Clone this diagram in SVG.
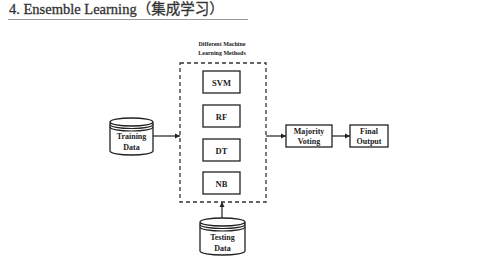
<svg xmlns="http://www.w3.org/2000/svg" width="494" height="256" viewBox="0 0 494 256">
<style>
.t{font-family:"Liberation Serif","Noto Sans CJK SC",serif;font-weight:bold;fill:#222;text-anchor:middle}
.box{fill:#fff;stroke:#222;stroke-width:1.3}
.cyl{fill:#fff;stroke:#222;stroke-width:1.3}
.ln{fill:none;stroke:#222;stroke-width:1.2}
</style>
<defs>
<marker id="ah" markerWidth="6" markerHeight="6" refX="5" refY="3" orient="auto" markerUnits="userSpaceOnUse">
<path d="M0,0.5 L5,3 L0,5.5 Z" fill="#222"/>
</marker>
</defs>
<rect width="494" height="256" fill="#fff"/>
<g id="title">
<text x="9" y="14" font-family="Liberation Serif, Noto Sans CJK SC, serif" font-size="14.5" fill="#333" stroke="#333" stroke-width="0.3">4. Ensemble Learning（集成学习）</text>
<line x1="8" y1="19.5" x2="248" y2="19.5" stroke="#999" stroke-width="1"/>
</g>
<g id="methods">
<text class="t" x="222" y="46" font-size="6">Different Machine</text>
<text class="t" x="222" y="55" font-size="6">Learning Methods</text>
<rect x="180" y="63" width="86" height="139" fill="none" stroke="#333" stroke-width="1.3" stroke-dasharray="4,3"/>
</g>
<g id="svm"><rect class="box" x="203" y="71" width="37" height="22"/><text class="t" x="221.5" y="85.5" font-size="8.5">SVM</text></g>
<g id="rf"><rect class="box" x="203" y="105" width="37" height="22"/><text class="t" x="221.5" y="119.5" font-size="8.5">RF</text></g>
<g id="dt"><rect class="box" x="203" y="139" width="37" height="22"/><text class="t" x="221.5" y="153.5" font-size="8.5">DT</text></g>
<g id="nb"><rect class="box" x="203" y="172" width="37" height="22"/><text class="t" x="221.5" y="186.5" font-size="8.5">NB</text></g>
<g id="training">
<path class="cyl" d="M110,122 L110,151 A21.5,4 0 0 0 153,151 L153,122 A21.5,4 0 0 0 110,122 A21.5,4 0 0 0 153,122"/>
<path class="ln" d="M110,124.5 A21.5,4 0 0 0 153,124.5 M110,127 A21.5,4 0 0 0 153,127"/>
<text class="t" x="131.5" y="139" font-size="8">Training</text>
<text class="t" x="131.5" y="150" font-size="8">Data</text>
</g>
<g id="testing">
<path class="cyl" d="M200,222 L200,251 A22.5,4 0 0 0 245,251 L245,222 A22.5,4 0 0 0 200,222 A22.5,4 0 0 0 245,222"/>
<path class="ln" d="M200,224.5 A22.5,4 0 0 0 245,224.5 M200,227 A22.5,4 0 0 0 245,227"/>
<text class="t" x="222.5" y="240" font-size="8">Testing</text>
<text class="t" x="222.5" y="251" font-size="8">Data</text>
</g>
<g id="majority"><rect class="box" x="286" y="125" width="46" height="22"/><text class="t" x="309" y="134" font-size="8">Majority</text><text class="t" x="309" y="143.5" font-size="8">Voting</text></g>
<g id="final"><rect class="box" x="350" y="125" width="38" height="22"/><text class="t" x="369" y="134" font-size="8">Final</text><text class="t" x="369" y="143.5" font-size="8">Output</text></g>
<g id="connectors">
<line class="ln" x1="153" y1="136" x2="180" y2="136" marker-end="url(#ah)"/>
<line class="ln" x1="222" y1="218" x2="222" y2="202" marker-end="url(#ah)"/>
<line class="ln" x1="266" y1="136" x2="286" y2="136" marker-end="url(#ah)"/>
<line class="ln" x1="332" y1="136" x2="350" y2="136" marker-end="url(#ah)"/>
</g>
</svg>
